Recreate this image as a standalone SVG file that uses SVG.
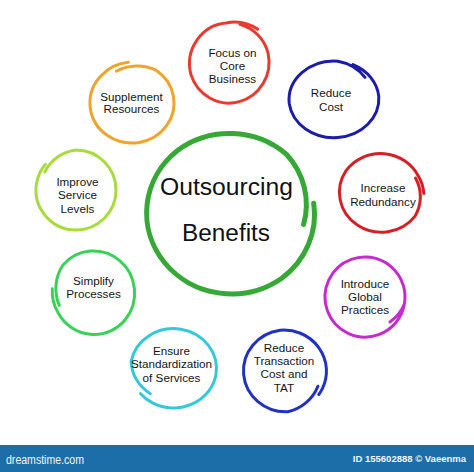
<svg xmlns="http://www.w3.org/2000/svg" width="474" height="472" viewBox="0 0 474 472">
<style>
.t{font-family:"Liberation Sans",Arial,Helvetica,sans-serif;font-size:11.7px;fill:#151515;text-anchor:middle}
.big{font-family:"Liberation Sans",Arial,Helvetica,sans-serif;font-size:23px;fill:#111;text-anchor:middle}
.ring{fill:none;stroke-width:3;stroke-linecap:round;stroke-linejoin:round}
.foot{font-family:"Liberation Sans",Arial,sans-serif;fill:#f2f6fa}
</style>
<rect width="474" height="472" fill="#ffffff"/>

<g id="center">
<path class="ring" style="stroke:#35a835;stroke-width:5" d="M313.7,203.2 A85,81 0 0 1 281.8,278.3 A85,81 0 0 1 177.2,150.7 A85,81 0 0 1 286.4,154.3 A80,76 0 0 1 303.6,224.4"/>
<text class="big" x="226.5" y="195" textLength="133" lengthAdjust="spacingAndGlyphs">Outsourcing</text>
<text class="big" x="226" y="241" textLength="88" lengthAdjust="spacingAndGlyphs">Benefits</text>
</g>

<g id="focus">
<path class="ring" style="stroke:#e63b2e" d="M239.85,24.2 A40,41 0 0 1 268.1,53.2 A40,41 0 0 1 190.9,74.4 A40,41 0 0 1 226,23 A42,43 0 0 1 257.8,29.25"/>
<text class="t" x="232.5" y="56.7">Focus on</text>
<text class="t" x="232.5" y="70">Core</text>
<text class="t" x="232.5" y="83.3">Business</text>
</g>

<g id="reduce-cost">
<path class="ring" style="stroke:#1c1ca8" d="M353,64.65 A45,39 0 0 1 378.8,96.6 A45,39 0 0 1 289.2,103.4 A45,39 0 0 1 337.9,61.15 A42,37 0 0 1 365,77.4"/>
<text class="t" x="331" y="97.3">Reduce</text>
<text class="t" x="331" y="110.7">Cost</text>
</g>

<g id="supplement">
<path class="ring" style="stroke:#eea52f" d="M116.4,71.1 A42,40 0 0 1 156.1,70.2 A42,40 0 0 1 107.9,135.8 A42,40 0 0 1 102.3,74.7 A42,40 0 0 1 128.3,62.35"/>
<text class="t" x="131.5" y="100.7">Supplement</text>
<text class="t" x="131.5" y="113.3">Resources</text>
</g>

<g id="redundancy">
<path class="ring" style="stroke:#d42126" d="M415.5,177.95 A42,40 0 0 1 414.9,216.4 A42,40 0 0 1 346.1,170.6 A42,40 0 0 1 418.6,176.6 A42,40 0 0 1 423.8,193.5"/>
<text class="t" x="383" y="192.3">Increase</text>
<text class="t" x="383" y="206">Redundancy</text>
</g>

<g id="improve">
<path class="ring" style="stroke:#a8dc3c" d="M44.8,172 A40,40 0 0 1 76,150 A40,40 0 0 1 76,230 A40,40 0 0 1 36.6,183.1 A40,40 0 0 1 45.4,164.3"/>
<text class="t" x="77.5" y="186">Improve</text>
<text class="t" x="77.5" y="199.3">Service</text>
<text class="t" x="77.5" y="212.7">Levels</text>
</g>

<g id="introduce">
<path class="ring" style="stroke:#c42ccc" d="M404.4,303.9 A40,40 0 0 1 378.7,334.6 A40,40 0 0 1 351.3,259.4 A40,40 0 0 1 404.4,303.9 A38,38 0 0 1 389.9,321.9"/>
<text class="t" x="365" y="287.7">Introduce</text>
<text class="t" x="365" y="301">Global</text>
<text class="t" x="365" y="314.3">Practices</text>
</g>

<g id="simplify">
<path class="ring" style="stroke:#3ad157" d="M59.3,305.4 A41,42 0 0 1 62.6,265.5 A41,42 0 0 1 125.4,319.5 A41,42 0 0 1 58.5,313.5 A41,42 0 0 1 52.3,288.8"/>
<text class="t" x="93.5" y="285">Simplify</text>
<text class="t" x="93.5" y="298.3">Processes</text>
</g>

<g id="transaction">
<path class="ring" style="stroke:#2232c0" d="M317.9,386.25 A42.5,41 0 0 1 287.7,411.8 A42.5,41 0 0 1 280.3,330.2 A42.5,41 0 0 1 322.5,388.3 A42.5,41 0 0 1 318.8,394.5"/>
<text class="t" x="284" y="351.7">Reduce</text>
<text class="t" x="284" y="365">Transaction</text>
<text class="t" x="284" y="378.3">Cost and</text>
<text class="t" x="284" y="391.5">TAT</text>
</g>

<g id="ensure">
<path class="ring" style="stroke:#35c8d8" d="M150.3,393.7 A43,40 0 0 1 131.2,361.1 A43,40 0 0 1 215.9,374.9 A43,40 0 0 1 152,402.6 A43,40 0 0 1 140.6,393.7"/>
<text class="t" x="171.5" y="355">Ensure</text>
<text class="t" x="171.5" y="368.3">Standardization</text>
<text class="t" x="171.5" y="381.7">of Services</text>
</g>

<g id="footer">
<rect x="0" y="445" width="474" height="27" fill="#1b6ea7"/>
<text class="foot" x="6" y="464" font-size="13" textLength="78" lengthAdjust="spacingAndGlyphs">dreamstime.com</text>
<text class="foot" x="466" y="462" font-size="9.5" font-weight="bold" text-anchor="end">ID 155602888 © Vaeenma</text>
</g>
</svg>
